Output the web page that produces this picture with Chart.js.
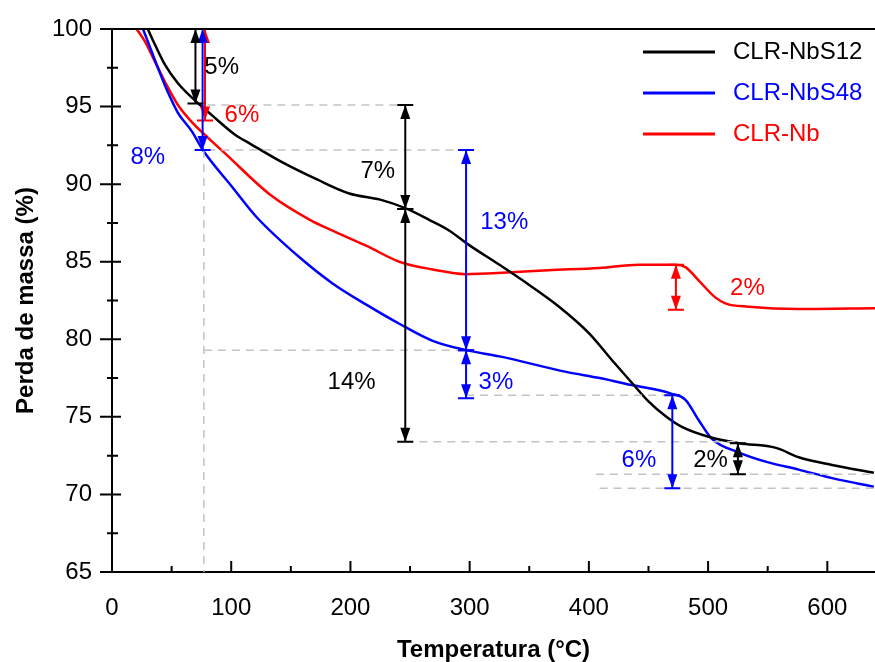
<!DOCTYPE html>
<html><head><meta charset="utf-8">
<script src="https://cdn.jsdelivr.net/npm/chart.js@4.4.0/dist/chart.umd.min.js"></script>
<style>html,body{margin:0;padding:0;background:#fff;}#wrap{width:875px;height:662px;}</style>
</head><body><div id="wrap"><canvas id="c" width="875" height="662"></canvas></div>
<script>
// ---- data ----
const seriesNames = ['CLR-NbS12', 'CLR-NbS48', 'CLR-Nb'];

const tempNbS12 = [30, 36, 44.4, 55.3, 69.5, 83.7, 103, 116, 143, 172, 199, 225, 246, 266, 283, 299, 325, 350, 375, 400, 420, 436, 450, 465, 478, 501, 526, 557, 576, 604, 639];
const massNbS12 = [100, 99.0, 97.7, 96.5, 95.4, 94.45, 93.2, 92.6, 91.4, 90.3, 89.4, 89.0, 88.45, 87.7, 87.0, 86.1, 84.8, 83.5, 82.1, 80.4, 78.6, 77.2, 76.0, 75.0, 74.35, 73.7, 73.3, 73.0, 72.4, 71.9, 71.4];

const tempNbS48 = [26, 30, 38.5, 47, 55.3, 67, 76.2, 101, 121, 157, 185, 214, 241, 269, 297, 325, 381, 409, 436, 469, 481, 492, 503, 526, 549, 576, 604, 639];
const massNbS48 = [100, 99.2, 97.5, 95.9, 94.6, 93.4, 92.2, 89.8, 87.9, 85.3, 83.6, 82.2, 81.0, 79.9, 79.3, 78.9, 77.9, 77.5, 77.05, 76.5, 76.1, 74.8, 73.6, 72.7, 72.1, 71.6, 71.05, 70.5];

const tempNb = [20.7, 27.6, 36, 44.4, 55.3, 67, 80.4, 94.6, 133, 166, 185, 214, 241, 269, 297, 331, 366, 409, 442, 473, 481, 492, 506, 515, 534, 576, 640];
const massNb = [100, 99.2, 97.9, 96.6, 95.1, 94.0, 93.0, 92.0, 89.3, 87.7, 87.0, 86.0, 85.0, 84.5, 84.2, 84.3, 84.45, 84.6, 84.8, 84.8, 84.65, 83.8, 82.7, 82.3, 82.1, 81.95, 82.0];

const xTicks = [0, 100, 200, 300, 400, 500, 600];
const yTicks = [65, 70, 75, 80, 85, 90, 95, 100];

// mass-loss annotations (series index: 0 NbS12, 1 NbS48, 2 Nb)
const lossSeries    = [2, 1, 0, 0, 0, 0, 1, 1, 1, 2];
const lossLabels    = ['6%', '8%', '5%', '7%', '14%', '2%', '13%', '3%', '6%', '2%'];
const lossTemp      = [78, 76, 70, 246, 246, 525, 297, 297, 470, 473];
const lossFrom      = [100, 100, 100, 95.1, 88.4, 73.3, 92.2, 79.3, 76.4, 84.8];
const lossTo        = [94.1, 92.2, 95.2, 88.4, 73.4, 71.3, 79.3, 76.2, 70.4, 81.9];
const lossLabelTemp = [109, 30, 92, 223, 201, 502, 329, 322, 442, 533];
const lossLabelMass = [94.45, 91.75, 97.5, 90.85, 77.2, 72.2, 87.55, 77.2, 72.2, 83.3];

// dashed guide lines
const guideT1 = [80, 80, 77, 77, 297, 246, 406, 409];
const guideT2 = [248, 297, 77, 297, 470, 527, 640, 640];
const guideM1 = [95.1, 92.2, 92.2, 79.3, 76.4, 73.4, 71.3, 70.4];
const guideM2 = [95.1, 92.2, 65, 79.3, 76.4, 73.4, 71.3, 70.4];

// ---- styles ----
const colors = ['#000000', '#0000ff', '#ff0000'];
const FONT = "'Liberation Sans', Arial, sans-serif";
Chart.defaults.font.family = FONT;

function pts(xs, ys) { return xs.map((x, i) => ({ x: x, y: ys[i] })); }

const annotPlugin = {
  id: 'annot',
  afterDatasetsDraw(chart) {
    const ctx = chart.ctx, xs = chart.scales.x, ys = chart.scales.y, ca = chart.chartArea;
    ctx.save();
    // dashed guides
    ctx.strokeStyle = '#c3c3c3'; ctx.lineWidth = 1.5; ctx.setLineDash([8, 6]);
    for (let i = 0; i < guideT1.length; i++) {
      ctx.beginPath();
      ctx.moveTo(xs.getPixelForValue(guideT1[i]), ys.getPixelForValue(guideM1[i]));
      ctx.lineTo(xs.getPixelForValue(guideT2[i]), ys.getPixelForValue(guideM2[i]));
      ctx.stroke();
    }
    ctx.setLineDash([]);
    // arrows
    for (let i = 0; i < lossTemp.length; i++) {
      const c = colors[lossSeries[i]];
      const x = xs.getPixelForValue(lossTemp[i]);
      const y1 = ys.getPixelForValue(lossFrom[i]);
      const y2 = ys.getPixelForValue(lossTo[i]);
      ctx.strokeStyle = c; ctx.fillStyle = c; ctx.lineWidth = 2;
      ctx.beginPath(); ctx.moveTo(x, y1); ctx.lineTo(x, y2); ctx.stroke();
      ctx.beginPath(); ctx.moveTo(x - 8, y1); ctx.lineTo(x + 8, y1);
      ctx.moveTo(x - 8, y2); ctx.lineTo(x + 8, y2); ctx.stroke();
      const d = y2 > y1 ? 1 : -1;
      ctx.beginPath(); ctx.moveTo(x, y1); ctx.lineTo(x - 5, y1 + d * 14); ctx.lineTo(x + 5, y1 + d * 14); ctx.closePath(); ctx.fill();
      ctx.beginPath(); ctx.moveTo(x, y2); ctx.lineTo(x - 5, y2 - d * 14); ctx.lineTo(x + 5, y2 - d * 14); ctx.closePath(); ctx.fill();
      ctx.font = '24px ' + FONT; ctx.textAlign = 'center'; ctx.textBaseline = 'middle';
      ctx.fillText(lossLabels[i], xs.getPixelForValue(lossLabelTemp[i]), ys.getPixelForValue(lossLabelMass[i]));
    }
    // frame top line
    ctx.strokeStyle = '#000'; ctx.lineWidth = 2;
    ctx.beginPath(); ctx.moveTo(ca.left, ca.top); ctx.lineTo(ca.right, ca.top); ctx.stroke();
    // ticks
    ctx.lineWidth = 2;
    ctx.beginPath();
    xs.ticks.forEach(t => { const p = xs.getPixelForValue(t.value); ctx.moveTo(p, ca.bottom); ctx.lineTo(p, ca.bottom - 11); });
    for (let v = 50; v < xs.max; v += 100) { const p = xs.getPixelForValue(v); ctx.moveTo(p, ca.bottom); ctx.lineTo(p, ca.bottom - 6); }
    ys.ticks.forEach(t => { const p = ys.getPixelForValue(t.value); ctx.moveTo(ca.left - 12, p); ctx.lineTo(ca.left + 9, p); });
    for (let v = 67.5; v < ys.max; v += 5) { const p = ys.getPixelForValue(v); ctx.moveTo(ca.left - 5, p); ctx.lineTo(ca.left + 6, p); }
    ctx.stroke();
    // legend
    chart.data.datasets.forEach((ds, i) => {
      const y = ca.top + 23 + i * 41;
      ctx.strokeStyle = ds.borderColor; ctx.lineWidth = 3;
      ctx.beginPath(); ctx.moveTo(ca.right - 232, y); ctx.lineTo(ca.right - 160, y); ctx.stroke();
      ctx.fillStyle = ds.borderColor; ctx.font = '24px ' + FONT; ctx.textAlign = 'left'; ctx.textBaseline = 'middle';
      ctx.fillText(ds.label, ca.right - 142, y);
    });
    ctx.restore();
  }
};

new Chart(document.getElementById('c'), {
  type: 'line',
  data: {
    datasets: [
      { label: seriesNames[0], data: pts(tempNbS12, massNbS12), borderColor: colors[0] },
      { label: seriesNames[1], data: pts(tempNbS48, massNbS48), borderColor: colors[1] },
      { label: seriesNames[2], data: pts(tempNb, massNb), borderColor: colors[2] }
    ]
  },
  options: {
    responsive: false,
    animation: false,
    datasets: { line: { borderWidth: 2.5, pointRadius: 0, tension: 0.4, cubicInterpolationMode: 'monotone', fill: false } },
    layout: { padding: { top: 29, right: 0, left: 0, bottom: 0 } },
    plugins: { legend: { display: false }, tooltip: { enabled: false } },
    scales: {
      x: {
        type: 'linear', min: 0, max: 640,
        afterBuildTicks: s => { s.ticks = xTicks.map(v => ({ value: v })); },
        afterFit: s => { s.height = 90; s.paddingLeft = 0; s.paddingRight = 0; },
        grid: { display: false, drawTicks: false },
        border: { display: true, color: '#000', width: 2 },
        ticks: { font: { size: 24 }, color: '#000', padding: 22, maxRotation: 0, autoSkip: false },
        title: { display: true, text: 'Temperatura (°C)', color: '#000', font: { size: 24, weight: 'bold', lineHeight: 1 }, padding: { top: 0, bottom: 0 } }
      },
      y: {
        type: 'linear', min: 65, max: 100,
        afterBuildTicks: s => { s.ticks = yTicks.map(v => ({ value: v })); },
        afterFit: s => { s.width = 112; s.paddingTop = 0; s.paddingBottom = 0; },
        grid: { display: false, drawTicks: false },
        border: { display: true, color: '#000', width: 2 },
        ticks: { font: { size: 24 }, color: '#000', padding: 20, autoSkip: false },
        title: { display: true, text: 'Perda de massa (%)', color: '#000', font: { size: 24, weight: 'bold' }, padding: { top: 12, bottom: 0 } }
      }
    }
  },
  plugins: [annotPlugin]
});
</script></body></html>
